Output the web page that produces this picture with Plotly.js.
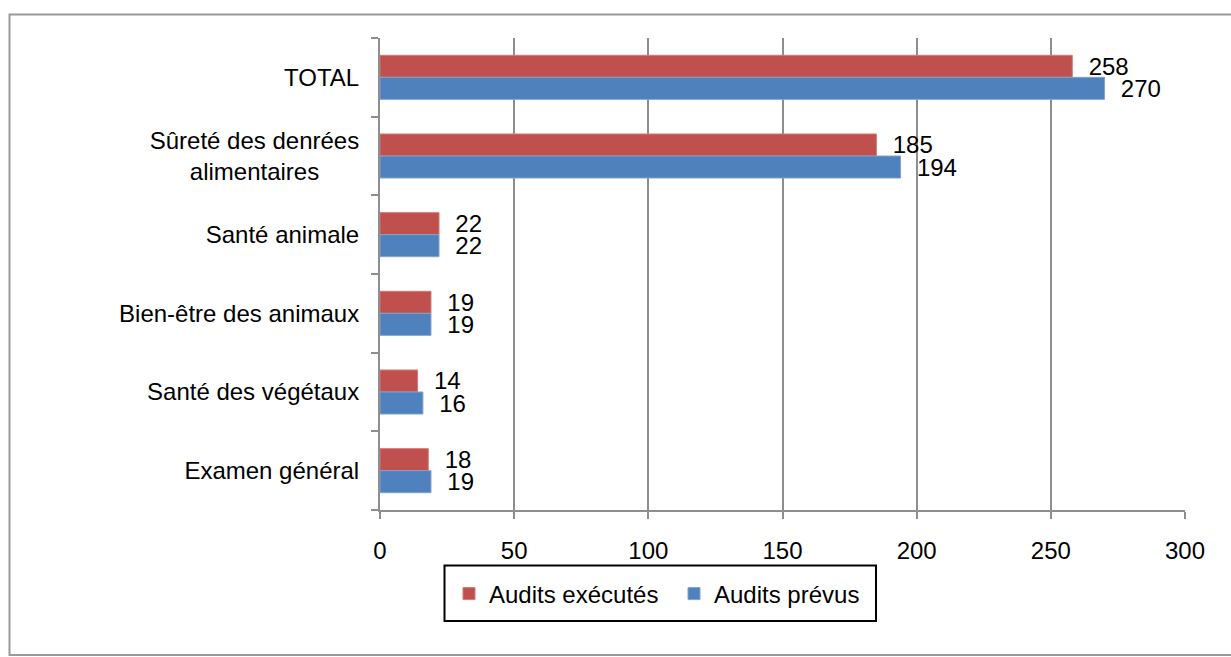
<!DOCTYPE html>
<html>
<head>
<meta charset="utf-8">
<script src="https://cdn.plot.ly/plotly-3.0.1.min.js"></script>
<style>
  html, body { margin: 0; padding: 0; background: #fff; }
  #chart { width: 1231px; height: 657px; }
</style>
</head>
<body>
<div id="chart"></div>
<script>
// Categories, top to bottom as in the reference
const categories = ['TOTAL', 'Sûreté des denrées alimentaires', 'Santé animale', 'Bien-être des animaux', 'Santé des végétaux', 'Examen général'];
const tickLabels = ['TOTAL', 'Sûreté des denrées<br>alimentaires\u00a0\u00a0\u00a0\u00a0\u00a0\u00a0', 'Santé animale', 'Bien-être des animaux', 'Santé des végétaux', 'Examen général'];
const auditsExecutes = [258, 185, 22, 19, 14, 18];
const auditsPrevus = [270, 194, 22, 19, 16, 19];
const seriesNames = ['Audits exécutés', 'Audits prévus'];
const xTicks = [0, 50, 100, 150, 200, 250, 300];

const FONT = 'Liberation Sans, Arial, sans-serif';
const FS = 24;
const RED = '#C0504D';
const BLUE = '#4F81BD';
const GRID = '#8E8E8E';

const common = {
  type: 'bar',
  orientation: 'h',
  y: categories,
  textposition: 'outside',
  texttemplate: '\u00a0\u00a0%{x}',
  textfont: { family: FONT, size: FS, color: '#000' },
  constraintext: 'none',
  cliponaxis: false,
  hoverinfo: 'x+y+name'
};

const traces = [
  Object.assign({}, common, {
    name: seriesNames[0],
    x: auditsExecutes,
    marker: { color: RED, line: { color: '#D27A77', width: 1 } }
  }),
  Object.assign({}, common, {
    name: seriesNames[1],
    x: auditsPrevus,
    marker: { color: BLUE, line: { color: '#7FA3D2', width: 1 } }
  })
];

// pixel helpers (paper coords)
const L = 380, R = 1185, T = 38, B = 510;
const px = v => (v - L) / (R - L);
const py = v => (B - v) / (B - T);

const layout = {
  width: 1231,
  height: 657,
  margin: { l: L, r: 1231 - R, t: T, b: 657 - B, pad: 0 },
  paper_bgcolor: '#fff',
  plot_bgcolor: '#fff',
  font: { family: FONT, size: FS, color: '#000' },
  barmode: 'group',
  bargap: 0.44,
  bargroupgap: 0,
  showlegend: true,
  legend: {
    orientation: 'h',
    x: px(449), xanchor: 'left',
    y: py(594), yanchor: 'middle',
    borderwidth: 0,
    bgcolor: 'rgba(0,0,0,0)',
    entrywidth: 180,
    entrywidthmode: 'pixels',
    font: { family: FONT, size: FS, color: '#000' },
    itemclick: false
  },
  xaxis: {
    range: [0, 300],
    tickvals: xTicks,
    ticktext: xTicks.map(String),
    showgrid: true,
    gridcolor: GRID,
    gridwidth: 2,
    showline: true,
    linecolor: GRID,
    linewidth: 2,
    ticks: 'outside',
    ticklen: 7,
    tickwidth: 2,
    tickcolor: GRID,
    ticklabelstandoff: 11,
    zeroline: false,
    tickfont: { family: FONT, size: FS, color: '#000' },
    fixedrange: true
  },
  yaxis: {
    type: 'category',
    autorange: 'reversed',
    tickvals: categories,
    ticktext: tickLabels,
    tickson: 'boundaries',
    showgrid: false,
    showline: true,
    linecolor: GRID,
    linewidth: 2,
    ticks: 'outside',
    ticklen: 7,
    tickwidth: 2,
    tickcolor: GRID,
    ticklabelstandoff: 14,
    zeroline: false,
    tickfont: { family: FONT, size: FS, color: '#000' },
    fixedrange: true
  },
  shapes: [
    {
      type: 'rect', xref: 'paper', yref: 'paper',
      x0: px(9.5), x1: px(1240), y0: py(655), y1: py(14.5),
      line: { color: '#9A9A9A', width: 2 },
      fillcolor: 'rgba(0,0,0,0)',
      layer: 'below'
    },
    {
      type: 'rect', xref: 'paper', yref: 'paper',
      x0: px(444.5), x1: px(876), y0: py(621), y1: py(565.5),
      line: { color: '#000', width: 2 },
      fillcolor: '#fff',
      layer: 'below'
    }
  ]
};

Plotly.newPlot('chart', traces, layout, { displayModeBar: false, staticPlot: true });
</script>
</body>
</html>
